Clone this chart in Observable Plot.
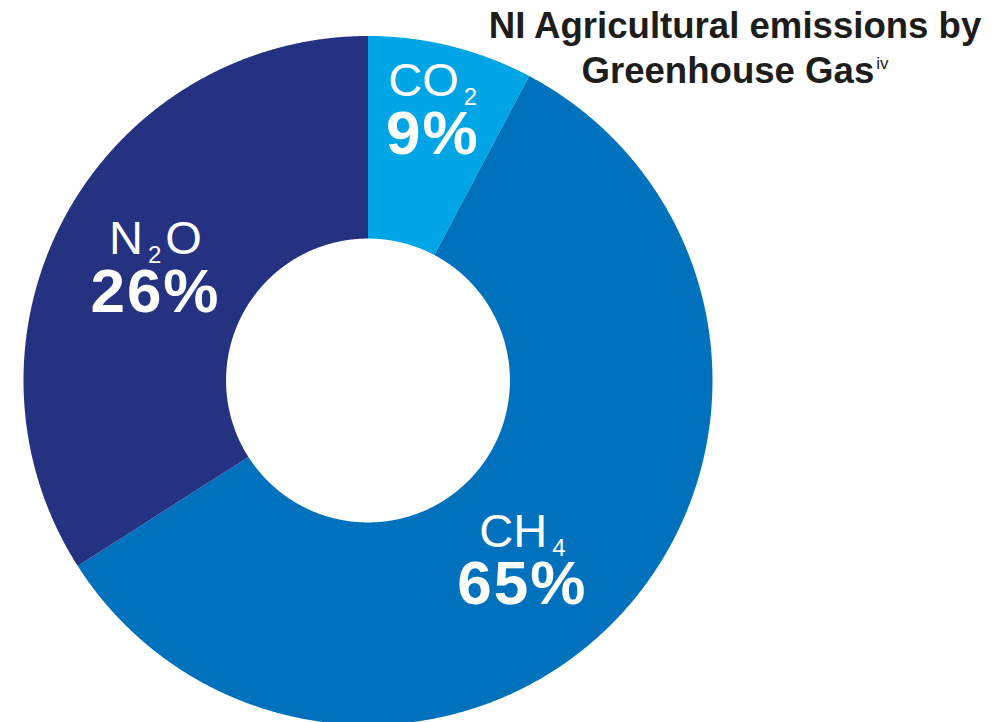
<!DOCTYPE html>
<html><head><meta charset="utf-8">
<script src="https://cdn.jsdelivr.net/npm/d3@7"></script>
<script src="https://cdn.jsdelivr.net/npm/@observablehq/plot@0.6"></script>
<style>
html,body{margin:0;padding:0;background:#fff;}
#wrap{position:relative;width:1005px;height:722px;overflow:hidden;font-family:"Liberation Sans",Arial,Helvetica,sans-serif;}
#wrap svg{position:absolute;left:0;top:0;}
#title{position:absolute;left:735px;top:3px;transform:translateX(-50%);white-space:nowrap;text-align:center;font-weight:bold;font-size:36.6px;line-height:45px;color:#1d1d1b;z-index:2;}
#title .sup{font-weight:normal;font-size:17px;position:relative;top:-14px;margin-left:2px;}
</style></head>
<body>
<div id="wrap">
  <div id="title">NI Agricultural emissions by<br>Greenhouse Gas<span class="sup">iv</span></div>
</div>
<script>
// ---- data ----
const gases = ["CO2", "CH4", "N2O"];
const arcShares = [7.75, 58.2, 34.05];      // share of the ring as drawn
const shareLabels = ["9%", "65%", "26%"];   // printed labels
const gasColors = ["#00a5e6", "#0071bc", "#253282"];

// ---- geometry (layout) ----
const cx = 367.5, cy = 380, R = 344.5, inner = 0.412;
const labelR = 0.72;
const nudges = {CO2: [5, -16], N2O: [5, 21], CH4: [-28, 26]};

const total = d3.sum(arcShares);
const rows = [];
const labelRows = [];
let start = 0;
gases.forEach((g, i) => {
  const a0 = start / total * 360, a1 = (start + arcShares[i]) / total * 360;
  start += arcShares[i];
  const n = Math.max(2, Math.ceil((a1 - a0) / 0.25));
  const rad = a => a * Math.PI / 180;
  for (let k = 0; k <= n; k++) {
    const a = rad(a0 + (a1 - a0) * k / n);
    rows.push({gas: g, x: Math.sin(a), y: Math.cos(a)});
  }
  for (let k = n; k >= 0; k--) {
    const a = rad(a0 + (a1 - a0) * k / n);
    rows.push({gas: g, x: inner * Math.sin(a), y: inner * Math.cos(a)});
  }
  const am = rad((a0 + a1) / 2);
  const [nx, ny] = nudges[g];
  labelRows.push({gas: g, label: shareLabels[i],
    x: labelR * Math.sin(am) + nx / R, y: labelR * Math.cos(am) - ny / R});
});

const chart = Plot.plot({
  width: 1005, height: 722, margin: 0,
  style: {background: "transparent", fontFamily: "'Liberation Sans', Arial, sans-serif"},
  x: {domain: [-1, 1], range: [cx - R, cx + R], axis: null},
  y: {domain: [-1, 1], range: [cy + R, cy - R], axis: null},
  color: {domain: gases, range: gasColors},
  marks: [
    Plot.line(rows, {x: "x", y: "y", z: "gas", fill: "gas", stroke: "none", curve: "linear"}),
    Plot.text(labelRows, {x: "x", y: "y", text: "gas", fill: "white", fontSize: 47, lineAnchor: "middle", dy: -43}),
    Plot.text(labelRows, {x: "x", y: "y", text: "label", fill: "white", fontSize: 62, fontWeight: "bold", lineAnchor: "middle", dy: 10})
  ]
});

// subscripts for chemical formulas
const ns = "http://www.w3.org/2000/svg";
chart.querySelectorAll("text").forEach(t => {
  const s = t.textContent;
  if (!gases.includes(s)) return;
  while (t.firstChild) t.removeChild(t.firstChild);
  const parts = s.match(/[A-Z]+|[0-9]+/g);
  let after = false;
  parts.forEach(p => {
    if (/[0-9]/.test(p)) {
      const sp = document.createElementNS(ns, "tspan");
      sp.textContent = p;
      sp.setAttribute("font-size", "24");
      sp.setAttribute("dy", "9");
      sp.setAttribute("dx", "5");
      t.appendChild(sp);
      after = true;
    } else if (after) {
      const sp = document.createElementNS(ns, "tspan");
      sp.textContent = p;
      sp.setAttribute("dy", "-9");
      sp.setAttribute("dx", "4");
      t.appendChild(sp);
      after = false;
    } else {
      t.appendChild(document.createTextNode(p));
    }
  });
});
chart.querySelectorAll('g[aria-label="text"] text').forEach(t => {
  if (/%/.test(t.textContent)) t.setAttribute("letter-spacing", "2");
});

document.getElementById("wrap").appendChild(chart);
</script>
</body></html>
